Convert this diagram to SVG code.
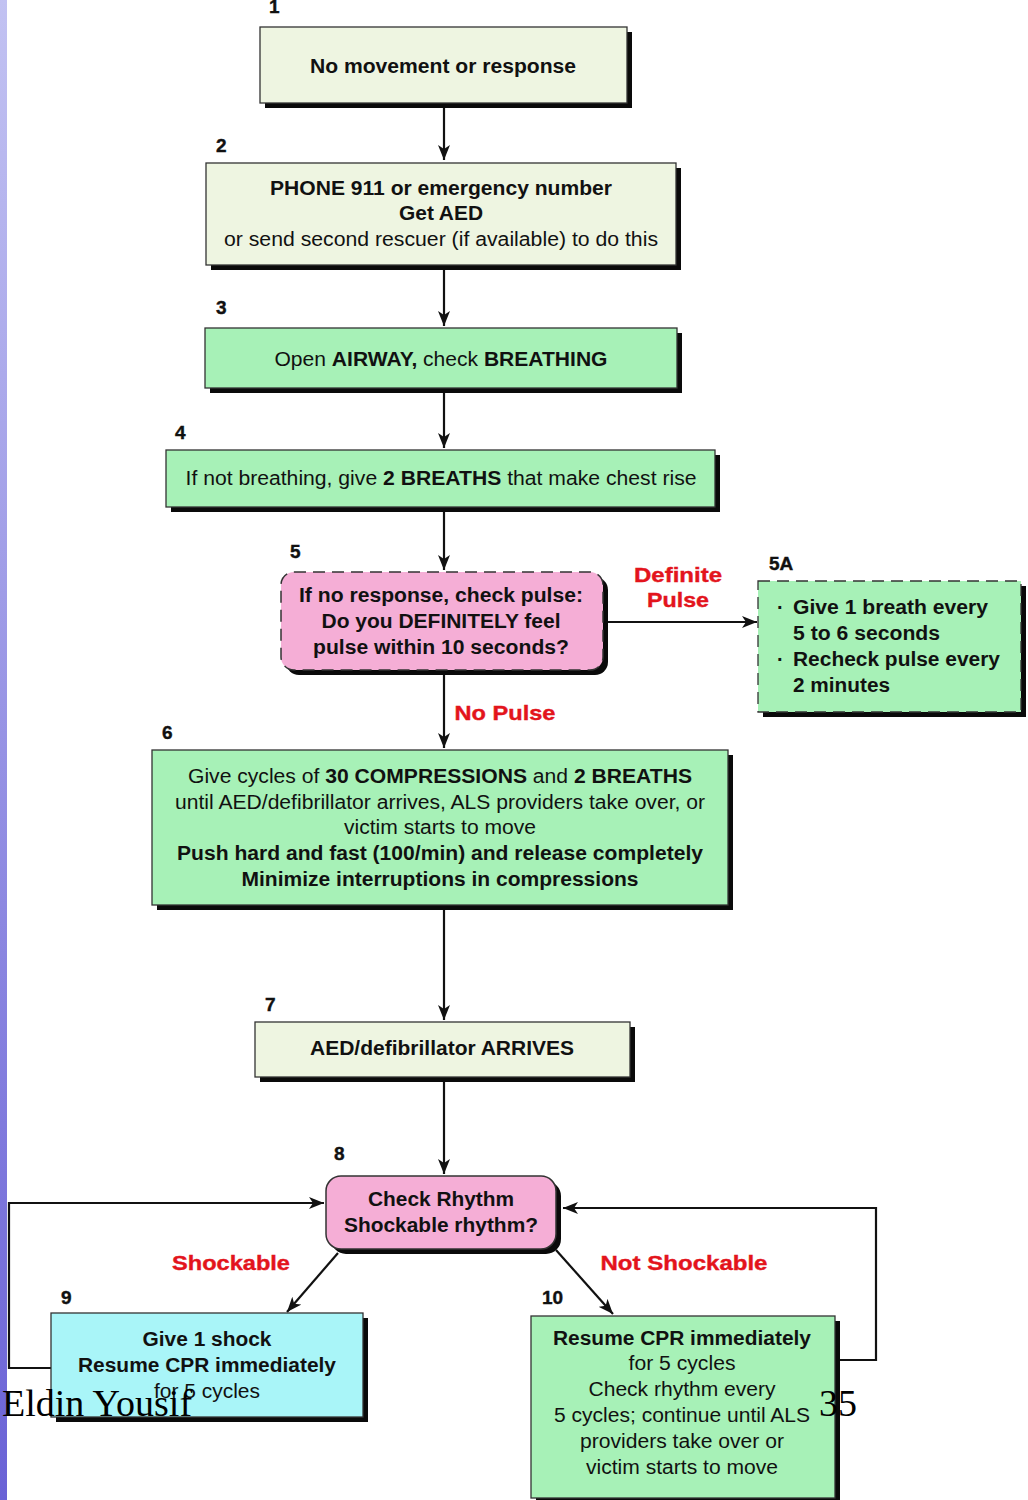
<svg xmlns="http://www.w3.org/2000/svg" width="1028" height="1500" viewBox="0 0 1028 1500">
<defs>
<linearGradient id="strip" x1="0" y1="0" x2="0" y2="1">
<stop offset="0" stop-color="#c2c2f2"/>
<stop offset="1" stop-color="#6a62d6"/>
</linearGradient>
<marker id="ah" markerWidth="16" markerHeight="12" refX="15" refY="6" orient="auto" markerUnits="userSpaceOnUse">
<path d="M0,0 L15,6 L0,12 L4,6 z" fill="#111"/>
</marker>
<style>
.t{font-family:"Liberation Sans",Arial,sans-serif;font-size:20px;fill:#111;text-anchor:middle}
.b{font-weight:bold}
.n{font-family:"Liberation Sans",Arial,sans-serif;font-size:19px;font-weight:bold;fill:#111;stroke:#111;stroke-width:0.4}
.r{font-family:"Liberation Sans",Arial,sans-serif;font-size:21px;font-weight:bold;fill:#e3141c;stroke:#e3141c;stroke-width:0.4;text-anchor:middle}
.sh{fill:#0a0a0a}
.cream{fill:#eef5e1;stroke:#333;stroke-width:1.3}
.green{fill:#a7f1b7;stroke:#333;stroke-width:1.3}
.pink{fill:#f5aed6;stroke:#333;stroke-width:1.5}
.cyan{fill:#a9f5f8;stroke:#333;stroke-width:1.3}
.dash{stroke-dasharray:12 7}
.c{fill:none;stroke:#111;stroke-width:2.2}
.wm{font-family:"Liberation Serif","Times New Roman",serif;font-size:38px;fill:#000}
</style>
</defs>
<rect x="0" y="0" width="1028" height="1500" fill="#fff"/>
<rect x="0" y="0" width="7" height="1500" fill="url(#strip)"/>

<g id="connectors">
<path class="c" d="M444,103 V160" marker-end="url(#ah)"/>
<path class="c" d="M444,265 V326" marker-end="url(#ah)"/>
<path class="c" d="M444,388 V448" marker-end="url(#ah)"/>
<path class="c" d="M444,507 V570" marker-end="url(#ah)"/>
<path class="c" d="M606,622 H757" marker-end="url(#ah)"/>
<path class="c" d="M444,673 V748" marker-end="url(#ah)"/>
<path class="c" d="M444,908 V1020" marker-end="url(#ah)"/>
<path class="c" d="M444,1080 V1174" marker-end="url(#ah)"/>
<path class="c" d="M338,1253 L287,1312" marker-end="url(#ah)"/>
<path class="c" d="M556,1250 L613,1314" marker-end="url(#ah)"/>
<path class="c" d="M51,1368 H9 V1203 H324" marker-end="url(#ah)"/>
<path class="c" d="M838,1360 H876 V1208 H563" marker-end="url(#ah)"/>
<text class="r" x="678" y="582" textLength="88" lengthAdjust="spacingAndGlyphs">Definite</text>
<text class="r" x="678" y="607" textLength="62" lengthAdjust="spacingAndGlyphs">Pulse</text>
<text class="r" x="505" y="720" textLength="101" lengthAdjust="spacingAndGlyphs">No Pulse</text>
<text class="r" x="231" y="1270" textLength="118" lengthAdjust="spacingAndGlyphs">Shockable</text>
<text class="r" x="684" y="1270" textLength="167" lengthAdjust="spacingAndGlyphs">Not Shockable</text>
</g>

<g id="n1">
<text class="n" x="269" y="13">1</text>
<rect class="sh" x="265" y="32" width="367" height="76"/>
<rect class="cream" x="260" y="27" width="367" height="76"/>
<text class="t b" x="443" y="73" textLength="266" lengthAdjust="spacingAndGlyphs">No movement or response</text>
</g>

<g id="n2">
<text class="n" x="216" y="152">2</text>
<rect class="sh" x="211" y="168" width="470" height="102"/>
<rect class="cream" x="206" y="163" width="470" height="102"/>
<text class="t b" x="441" y="195" textLength="342" lengthAdjust="spacingAndGlyphs">PHONE 911 or emergency number</text>
<text class="t b" x="441" y="220" textLength="84" lengthAdjust="spacingAndGlyphs">Get AED</text>
<text class="t" x="441" y="246" textLength="434" lengthAdjust="spacingAndGlyphs">or send second rescuer (if available) to do this</text>
</g>

<g id="n3">
<text class="n" x="216" y="314">3</text>
<rect class="sh" x="210" y="333" width="472" height="60"/>
<rect class="green" x="205" y="328" width="472" height="60"/>
<text class="t" x="441" y="366" textLength="333" lengthAdjust="spacingAndGlyphs">Open <tspan class="b">AIRWAY,</tspan> check <tspan class="b">BREATHING</tspan></text>
</g>

<g id="n4">
<text class="n" x="175" y="439">4</text>
<rect class="sh" x="171" y="455" width="549" height="57"/>
<rect class="green" x="166" y="450" width="549" height="57"/>
<text class="t" x="441" y="485" textLength="511" lengthAdjust="spacingAndGlyphs">If not breathing, give <tspan class="b">2 BREATHS</tspan> that make chest rise</text>
</g>

<g id="n5">
<text class="n" x="290" y="558">5</text>
<rect class="sh" x="286" y="577" width="322" height="98" rx="13"/>
<rect class="pink dash" x="281" y="572" width="322" height="98" rx="13"/>
<text class="t b" x="441" y="602" textLength="284" lengthAdjust="spacingAndGlyphs">If no response, check pulse:</text>
<text class="t b" x="441" y="628" textLength="239" lengthAdjust="spacingAndGlyphs">Do you DEFINITELY feel</text>
<text class="t b" x="441" y="654" textLength="256" lengthAdjust="spacingAndGlyphs">pulse within 10 seconds?</text>
</g>

<g id="n5a">
<text class="n" x="769" y="570">5A</text>
<rect class="sh" x="763" y="586" width="263" height="131"/>
<rect class="green dash" x="758" y="581" width="263" height="131"/>
<text class="t b" x="777" y="614" style="text-anchor:start">·</text>
<text class="t b" x="793" y="614" style="text-anchor:start" textLength="195" lengthAdjust="spacingAndGlyphs">Give 1 breath every</text>
<text class="t b" x="793" y="640" style="text-anchor:start" textLength="147" lengthAdjust="spacingAndGlyphs">5 to 6 seconds</text>
<text class="t b" x="777" y="666" style="text-anchor:start">·</text>
<text class="t b" x="793" y="666" style="text-anchor:start" textLength="207" lengthAdjust="spacingAndGlyphs">Recheck pulse every</text>
<text class="t b" x="793" y="692" style="text-anchor:start" textLength="97" lengthAdjust="spacingAndGlyphs">2 minutes</text>
</g>

<g id="n6">
<text class="n" x="162" y="739">6</text>
<rect class="sh" x="157" y="755" width="576" height="155"/>
<rect class="green" x="152" y="750" width="576" height="155"/>
<text class="t" x="440" y="783" textLength="504" lengthAdjust="spacingAndGlyphs">Give cycles of <tspan class="b">30 COMPRESSIONS</tspan> and <tspan class="b">2 BREATHS</tspan></text>
<text class="t" x="440" y="809" textLength="530" lengthAdjust="spacingAndGlyphs">until AED/defibrillator arrives, ALS providers take over, or</text>
<text class="t" x="440" y="834" textLength="192" lengthAdjust="spacingAndGlyphs">victim starts to move</text>
<text class="t b" x="440" y="860" textLength="526" lengthAdjust="spacingAndGlyphs">Push hard and fast (100/min) and release completely</text>
<text class="t b" x="440" y="886" textLength="397" lengthAdjust="spacingAndGlyphs">Minimize interruptions in compressions</text>
</g>

<g id="n7">
<text class="n" x="265" y="1011">7</text>
<rect class="sh" x="260" y="1027" width="375" height="55"/>
<rect class="cream" x="255" y="1022" width="375" height="55"/>
<text class="t b" x="442" y="1055" textLength="264" lengthAdjust="spacingAndGlyphs">AED/defibrillator ARRIVES</text>
</g>

<g id="n8">
<text class="n" x="334" y="1160">8</text>
<rect class="sh" x="331" y="1181" width="230" height="73" rx="15"/>
<rect class="pink" x="326" y="1176" width="230" height="73" rx="15"/>
<text class="t b" x="441" y="1206" textLength="146" lengthAdjust="spacingAndGlyphs">Check Rhythm</text>
<text class="t b" x="441" y="1232" textLength="194" lengthAdjust="spacingAndGlyphs">Shockable rhythm?</text>
</g>

<g id="n9">
<text class="n" x="61" y="1304">9</text>
<rect class="sh" x="56" y="1318" width="312" height="104"/>
<rect class="cyan" x="51" y="1313" width="312" height="104"/>
<text class="t b" x="207" y="1346" textLength="129" lengthAdjust="spacingAndGlyphs">Give 1 shock</text>
<text class="t b" x="207" y="1372" textLength="258" lengthAdjust="spacingAndGlyphs">Resume CPR immediately</text>
<text class="t" x="207" y="1398" textLength="106" lengthAdjust="spacingAndGlyphs">for 5 cycles</text>
</g>

<g id="n10">
<text class="n" x="542" y="1304">10</text>
<rect class="sh" x="536" y="1321" width="304" height="182"/>
<rect class="green" x="531" y="1316" width="304" height="182"/>
<text class="t b" x="682" y="1345" textLength="258" lengthAdjust="spacingAndGlyphs">Resume CPR immediately</text>
<text class="t" x="682" y="1370" textLength="107" lengthAdjust="spacingAndGlyphs">for 5 cycles</text>
<text class="t" x="682" y="1396" textLength="187" lengthAdjust="spacingAndGlyphs">Check rhythm every</text>
<text class="t" x="682" y="1422" textLength="256" lengthAdjust="spacingAndGlyphs">5 cycles; continue until ALS</text>
<text class="t" x="682" y="1448" textLength="204" lengthAdjust="spacingAndGlyphs">providers take over or</text>
<text class="t" x="682" y="1474" textLength="192" lengthAdjust="spacingAndGlyphs">victim starts to move</text>
</g>

<g id="watermark">
<text class="wm" x="2" y="1416">Eldin Yousif</text>
<text class="wm" x="819" y="1416">35</text>
</g>
</svg>
